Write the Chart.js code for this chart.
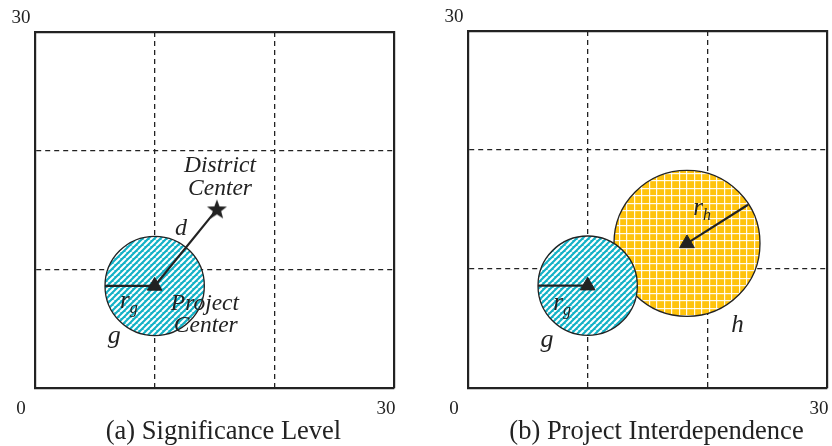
<!DOCTYPE html>
<html>
<head>
<meta charset="utf-8">
<script src="https://cdn.jsdelivr.net/npm/chart.js@4.4.0/dist/chart.umd.min.js"></script>
<style>
  body { margin: 0; background: #fff; }
  .panel { position: absolute; top: 0; width: 416px; height: 446px; }
</style>
</head>
<body>
<div class="panel" style="left:0"><canvas id="panelA" width="416" height="446"></canvas></div>
<div class="panel" style="left:416px"><canvas id="panelB" width="416" height="446"></canvas></div>
<script>
const axisRange = [0, 30];
const gridValues = [10, 20];
const xTickLabels = [0, 30];
const yTickLabels = [30];

// project g, project h, district center (data units)
const gCenter = [10, 8.6];
const gRadius = 4.15;
const hCenter = [18.3, 12.15];
const hRadius = 6.1;
const districtCenter = [15.2, 15.05];
const rhStart = [23.4, 15.4];

// text, x, y (baseline), font size, subscript
const notesA = [
  ['District', 15.46, 18.23, 23.5],
  ['Center', 15.46, 16.26, 23.5],
  ['d', 12.2, 12.89, 24],
  ['r', 7.52, 6.72, 25, 'g'],
  ['Project', 14.2, 6.57, 23.5],
  ['Center', 14.27, 4.69, 23.5],
  ['g', 6.63, 3.79, 26],
];
const notesB = [
  ['r', 19.23, 14.52, 25, 'h'],
  ['h', 22.52, 4.71, 25],
  ['g', 6.61, 3.48, 26],
  ['r', 7.53, 6.53, 25, 'g'],
];
const captions = ['(a) Significance Level', '(b) Project Interdependence'];

const ink = '#222';
const serif = '"Liberation Serif", "Times New Roman", serif';

function stripes() {
  const c = document.createElement('canvas');
  c.width = c.height = 6;
  const g = c.getContext('2d');
  g.fillStyle = '#12b1c6';
  g.fillRect(0, 0, 6, 6);
  g.strokeStyle = '#fff';
  g.lineWidth = 2.1;
  g.beginPath();
  for (const k of [-6, 0, 6]) { g.moveTo(k, 6); g.lineTo(k + 6, 0); }
  g.stroke();
  return g.createPattern(c, 'repeat');
}

function checks() {
  const c = document.createElement('canvas');
  c.width = c.height = 15;
  const g = c.getContext('2d');
  g.fillStyle = '#ffc30c';
  g.fillRect(0, 0, 15, 15);
  g.fillStyle = 'rgba(255,255,255,0.92)';
  for (const k of [0, 8]) {
    g.fillRect(0, k, 15, 1.2);
    g.fillRect(k, 0, 1.2, 15);
  }
  return g.createPattern(c, 'repeat');
}

function starImage() {
  const c = document.createElement('canvas');
  c.width = c.height = 24;
  const g = c.getContext('2d');
  g.fillStyle = ink;
  g.beginPath();
  for (let i = 0; i < 10; i++) {
    const r = i % 2 ? 4.4 : 10.5;
    const a = -Math.PI / 2 + i * Math.PI / 5;
    g.lineTo(12 + r * Math.cos(a), 12.5 + r * Math.sin(a));
  }
  g.closePath();
  g.fill();
  return c;
}

const pt = p => ({ x: p[0], y: p[1] });

const pxRadius = r => c => {
  const s = c.chart.scales.x;
  const v = s.getPixelForValue(r) - s.getPixelForValue(0);
  return isFinite(v) ? v : 0;
};

const circle = (center, r, fill) => ({
  data: [pt(center)],
  pointStyle: 'circle',
  pointRadius: pxRadius(r),
  pointHoverRadius: pxRadius(r),
  pointBackgroundColor: fill,
  pointBorderColor: ink,
  pointBorderWidth: 1.3,
  clip: false,
});

const segment = (a, b) => ({
  data: [pt(a), pt(b)],
  showLine: true,
  borderColor: ink,
  borderWidth: 2.2,
  pointRadius: 0,
  clip: false,
});

const marker = (p, style, size) => ({
  data: [pt(p)],
  pointStyle: style,
  pointRadius: size,
  pointBackgroundColor: ink,
  pointBorderColor: ink,
  pointBorderWidth: 1,
  clip: false,
});

const axis = (pos, main) => ({
  type: 'linear',
  position: pos,
  min: axisRange[0],
  max: axisRange[1],
  afterBuildTicks: s => {
    s.ticks = [axisRange[0], ...gridValues, axisRange[1]].map(value => ({ value }));
  },
  ticks: { display: false },
  grid: {
    display: main,
    drawTicks: false,
    lineWidth: 1.3,
    color: c => (c.tick && gridValues.includes(c.tick.value)) ? ink : 'rgba(0,0,0,0)',
  },
  border: { display: true, width: 2.2, color: ink, dash: [5, 4] },
});

const labelsPlugin = {
  id: 'labels',
  afterDatasetsDraw(chart, args, opts) {
    const { ctx, chartArea, scales: { x, y } } = chart;
    ctx.save();
    ctx.fillStyle = ink;
    ctx.textAlign = 'center';
    ctx.textBaseline = 'alphabetic';
    for (const [text, vx, vy, size, sub] of opts.notes) {
      ctx.font = `italic ${size}px ${serif}`;
      const px = x.getPixelForValue(vx);
      const py = y.getPixelForValue(vy);
      ctx.fillText(text, px, py);
      if (sub) {
        const w = ctx.measureText(text).width;
        ctx.font = `italic 16px ${serif}`;
        ctx.textAlign = 'left';
        ctx.fillText(sub, px + w / 2, py + 5);
        ctx.textAlign = 'center';
      }
    }
    ctx.font = `19px ${serif}`;
    ctx.textBaseline = 'middle';
    xTickLabels.forEach(v => {
      ctx.fillText(String(v), x.getPixelForValue(v) - (v === axisRange[0] ? 14 : 8), chartArea.bottom + 21);
    });
    yTickLabels.forEach(v => {
      ctx.fillText(String(v), chartArea.left - 14, y.getPixelForValue(v) - 14);
    });
    ctx.font = `26.5px ${serif}`;
    ctx.fillText(opts.caption, (chartArea.left + chartArea.right) / 2 + 9, chart.height - 14);
    ctx.restore();
  },
};

function makePanel(id, datasets, notes, caption, padding) {
  return new Chart(document.getElementById(id), {
    type: 'scatter',
    data: { datasets },
    options: {
      responsive: false,
      animation: false,
      events: [],
      layout: { padding, autoPadding: false },
      plugins: {
        legend: { display: false },
        tooltip: { enabled: false },
        labels: { notes, caption },
      },
      scales: {
        x: axis('bottom', true),
        y: axis('left', true),
        xTop: axis('top', false),
        yRight: axis('right', false),
      },
    },
    plugins: [labelsPlugin],
  });
}

const cyan = stripes();
const orange = checks();
const star = starImage();

makePanel('panelA', [
  marker(districtCenter, star, 10),
  marker(gCenter, 'triangle', 8.5),
  segment(gCenter, districtCenter),
  segment([gCenter[0] - gRadius, gCenter[1]], gCenter),
  circle(gCenter, gRadius, cyan),
], notesA, captions[0], { left: 35, right: 22, top: 32, bottom: 58 });

makePanel('panelB', [
  marker(hCenter, 'triangle', 8.5),
  marker(gCenter, 'triangle', 8.5),
  segment(rhStart, hCenter),
  segment([gCenter[0] - gRadius, gCenter[1]], gCenter),
  circle(gCenter, gRadius, cyan),
  circle(hCenter, hRadius, orange),
], notesB, captions[1], { left: 52, right: 5, top: 31, bottom: 58 });
</script>
</body>
</html>
